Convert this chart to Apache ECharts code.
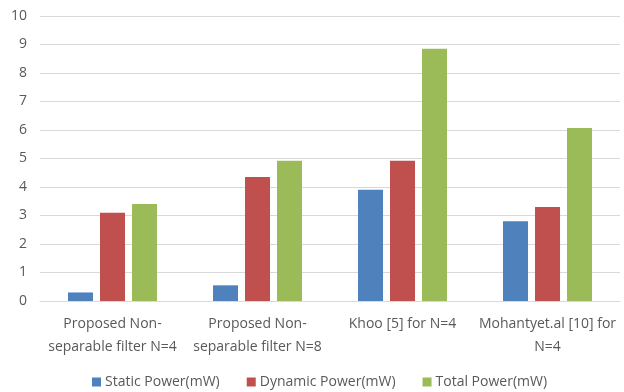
<!DOCTYPE html>
<html>
<head>
<meta charset="utf-8">
<script src="https://cdn.jsdelivr.net/npm/echarts@6/dist/echarts.min.js"></script>
<style>
  html, body { margin: 0; padding: 0; background: #fff; }
  #chart { width: 624px; height: 392px; }
</style>
</head>
<body>
<div id="chart"></div>
<script>
// values
var categories = [
  'Proposed Non-\nseparable filter N=4',
  'Proposed Non-\nseparable filter N=8',
  'Khoo [5] for N=4',
  'Mohantyet.al [10] for\nN=4'
];
var staticPower = [0.3, 0.55, 3.9, 2.8];
var dynamicPower = [3.1, 4.35, 4.92, 3.3];
var totalPower = [3.4, 4.92, 8.85, 6.07];
var yTicks = [0, 1, 2, 3, 4, 5, 6, 7, 8, 9, 10];

var chart = echarts.init(document.getElementById('chart'));
var txt = '#595959';
var fnt = '"Open Sans", sans-serif';

chart.setOption({
  animation: false,
  textStyle: { fontFamily: fnt },
  grid: { left: 40, right: 4, top: 16, bottom: 91 },
  legend: {
    top: 375,
    left: 92,
    padding: [0, 0, 0, 0],
    itemWidth: 9,
    itemHeight: 9,
    itemGap: 27,
    icon: 'rect',
    textStyle: { color: txt, fontSize: 14, fontFamily: fnt, padding: [0, 0, 0, -1] },
    data: ['Static Power(mW)', 'Dynamic Power(mW)', 'Total Power(mW)']
  },
  xAxis: {
    type: 'category',
    data: categories,
    axisLine: { lineStyle: { color: '#d9d9d9' } },
    axisTick: { show: false },
    axisLabel: { color: txt, fontSize: 14, lineHeight: 23, interval: 0, margin: 12 }
  },
  yAxis: {
    type: 'value',
    min: yTicks[0],
    max: yTicks[yTicks.length - 1],
    interval: 1,
    axisLine: { show: false },
    axisTick: { show: false },
    axisLabel: { color: txt, fontSize: 14, margin: 13 },
    splitLine: { lineStyle: { color: '#d9d9d9', width: 1 } }
  },
  series: [
    {
      name: 'Static Power(mW)', type: 'bar', data: staticPower,
      barWidth: 25, barGap: '28%',
      itemStyle: { color: '#4f81bd' }
    },
    {
      name: 'Dynamic Power(mW)', type: 'bar', data: dynamicPower,
      barWidth: 25, barGap: '28%',
      itemStyle: { color: '#c0504d' }
    },
    {
      name: 'Total Power(mW)', type: 'bar', data: totalPower,
      barWidth: 25, barGap: '28%',
      itemStyle: { color: '#9bbb59' }
    }
  ]
});
</script>
</body>
</html>
